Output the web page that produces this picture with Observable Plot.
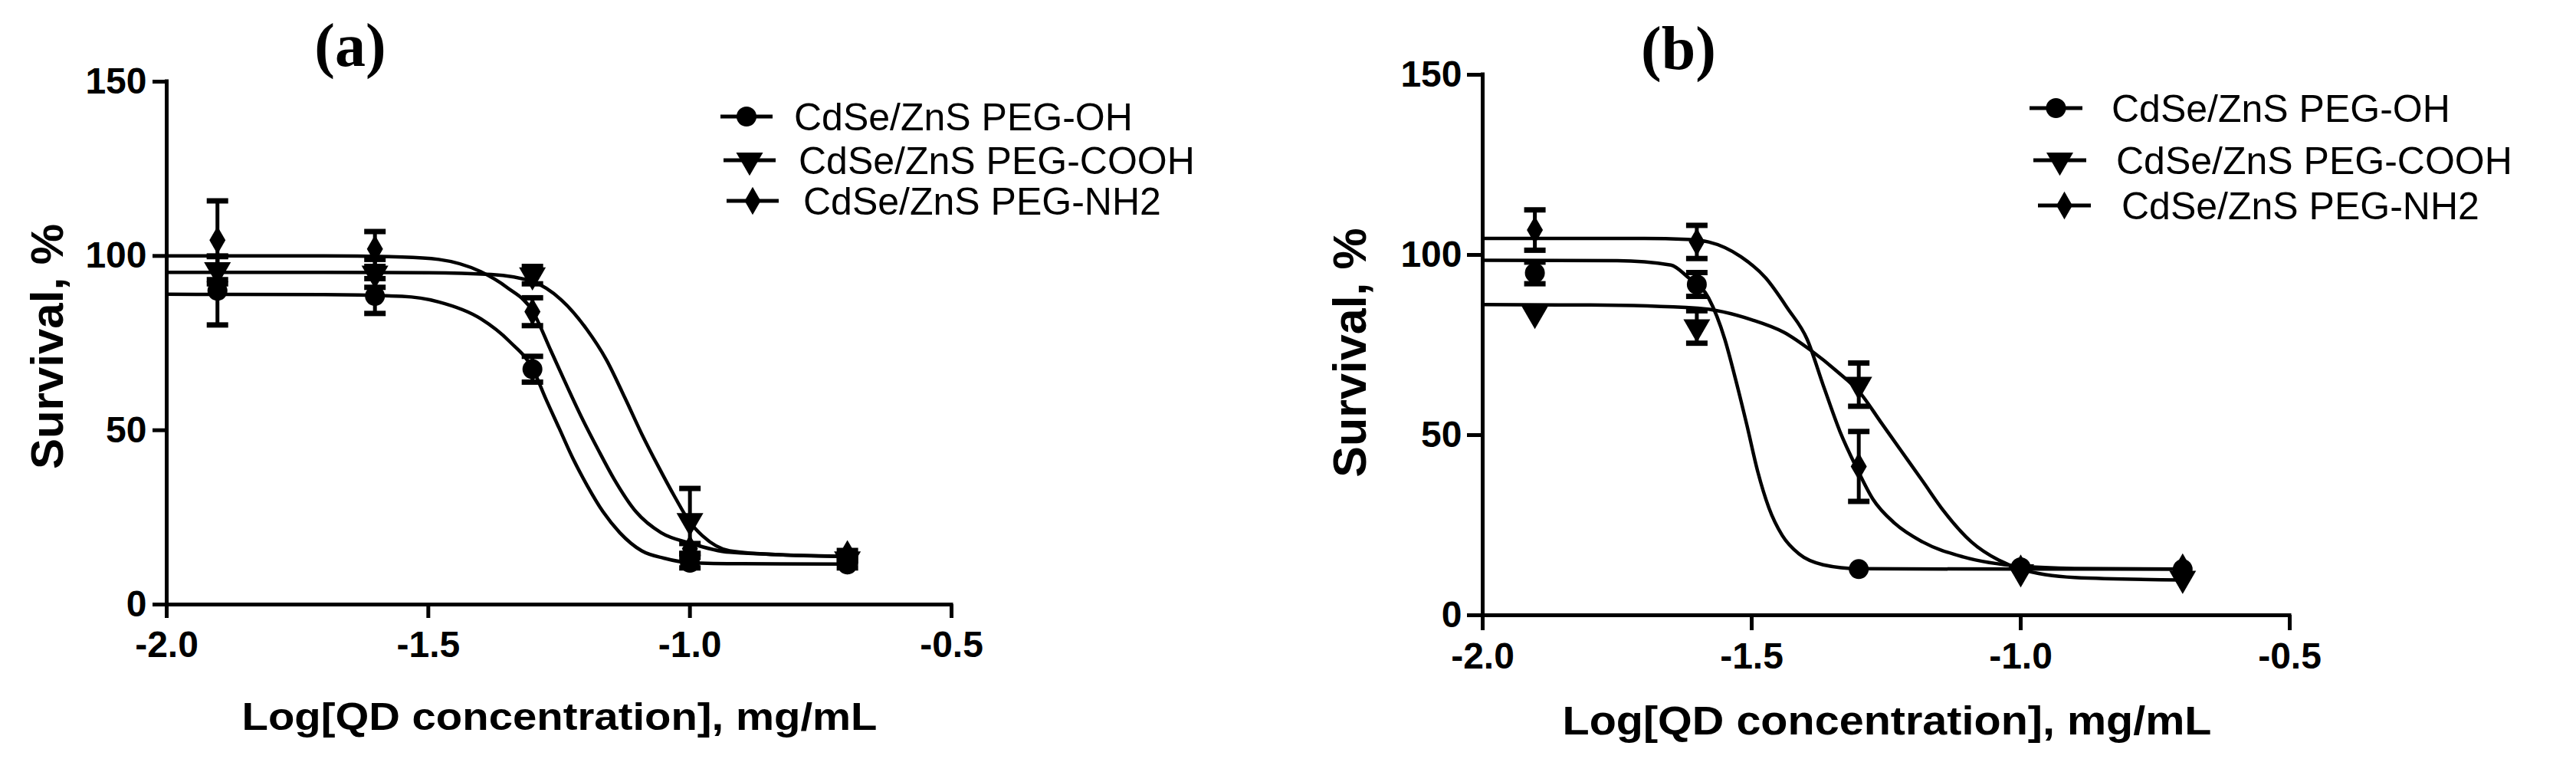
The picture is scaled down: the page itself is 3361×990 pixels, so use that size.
<!DOCTYPE html>
<html><head><meta charset="utf-8">
<script src="https://cdn.jsdelivr.net/npm/d3@7"></script>
<script src="https://cdn.jsdelivr.net/npm/@observablehq/plot@0.6"></script>
<style>
html,body{margin:0;padding:0;background:#fff;}
#fig{position:relative;width:3361px;height:990px;overflow:hidden;background:#fff;}
#fig svg{position:absolute;top:0;}
g[aria-label$="tick"] path{stroke-width:5px;}
</style></head><body><div id="fig"></div>
<script>
// ---------- data ----------
const seriesNames = ["CdSe/ZnS PEG-OH", "CdSe/ZnS PEG-COOH", "CdSe/ZnS PEG-NH2"];
const logConc = [-1.903, -1.602, -1.301, -1.0, -0.699];
const xTicks = [-2.0, -1.5, -1.0, -0.5];
const yTicks = [0, 50, 100, 150];

// panel (a) measured points (mean, error)
const a_OH = [90, 88.5, 67.5, 12, 11.5];
const a_OH_err = [9.8, 5, 3.7, 1.5, 1];
const a_COOH = [96, 95, 94.5, 24, 13];
const a_COOH_err = [4, 4, 2.5, 9.3, 1];
const a_NH2 = [104.5, 102, 84, 16, 14.5];
const a_NH2_err = [11.3, 5, 4, 1.5, 1];
// panel (a) fitted curves
const a_fit_OH_x = [-2.0, -1.7, -1.55, -1.48, -1.4, -1.345, -1.3, -1.276, -1.25, -1.224, -1.197, -1.166, -1.134, -1.092, -1.05, -1.0, -0.9, -0.7];
const a_fit_OH_y = [89, 88.9, 88.4, 86.8, 82, 75.5, 67.5, 59.2, 50.6, 42, 34.3, 26.6, 20.6, 15.4, 13.3, 12, 11.7, 11.6];
const a_fit_COOH_x = [-2.0, -1.7, -1.5, -1.38, -1.3, -1.246, -1.197, -1.16, -1.124, -1.092, -1.06, -1.029, -1.0, -0.976, -0.924, -0.818, -0.7];
const a_fit_COOH_y = [95.3, 95.3, 95.2, 94.7, 92.6, 87.4, 78.9, 70.3, 59.2, 48.9, 39.5, 30.9, 23.6, 19.7, 15.4, 14.2, 13.8];
const a_fit_NH2_x = [-2.0, -1.7, -1.55, -1.48, -1.4, -1.35, -1.3, -1.266, -1.24, -1.208, -1.176, -1.145, -1.103, -1.055, -1.0, -0.924, -0.7];
const a_fit_NH2_y = [100, 100, 99.7, 99, 95.5, 91, 84, 72.9, 64.3, 54, 44.6, 36, 26.6, 20.6, 17.6, 15, 13.8];

// panel (b) measured points (mean, error)
const b_OH = [95, 91.8, 12.8, 13.3, 12.8];
const b_OH_err = [3, 3.3, 0, 0, 0];
const b_COOH = [83.7, 80, 64, 12, 10.2];
const b_COOH_err = [0, 4.5, 6, 0, 0];
const b_NH2 = [106.9, 103.6, 41.3, 13, 13.3];
const b_NH2_err = [5.6, 4.6, 9.7, 0, 0];
// panel (b) fitted curves
const b_fit_OH_x = [-2.0, -1.75, -1.65, -1.62, -1.58, -1.55, -1.53, -1.509, -1.489, -1.468, -1.443, -1.412, -1.367, -1.3, -1.0, -0.7];
const b_fit_OH_y = [98.5, 98.4, 97.2, 94, 88, 76.6, 65.5, 52.8, 40, 29.8, 22.1, 17, 14, 12.9, 12.8, 12.8];
const b_fit_COOH_x = [-2.0, -1.8, -1.6, -1.5, -1.44, -1.39, -1.34, -1.3, -1.26, -1.224, -1.183, -1.143, -1.092, -1.041, -1.0, -0.9, -0.7];
const b_fit_COOH_y = [86.2, 86.1, 85.2, 82, 78.5, 73.5, 67.5, 62, 53.6, 46, 37.4, 28.9, 20.4, 15.3, 12.8, 10.5, 9.8];
const b_fit_NH2_x = [-2.0, -1.7, -1.62, -1.58, -1.52, -1.474, -1.433, -1.397, -1.367, -1.336, -1.305, -1.275, -1.234, -1.183, -1.107, -1.0, -0.9, -0.7];
const b_fit_NH2_y = [104.6, 104.6, 104.3, 103.6, 99.5, 93.6, 85.1, 76.6, 63.8, 51, 40.9, 32.3, 25.5, 20.4, 16.2, 13.6, 13, 12.8];

// ---------- helpers ----------
const FONT = "'Liberation Sans', Arial, Helvetica, sans-serif";
const pts = (ys, errs, key) => logConc.map((x, i) => ({x, y: ys[i], lo: ys[i] - errs[i], hi: ys[i] + errs[i], err: errs[i], key}));
const fit = (xs, ys, key) => xs.map((x, i) => ({x, y: ys[i], key}));
const capSymbol = {draw(ctx) { ctx.rect(-14, -3.5, 28, 7); }};
const markerDefs = [
  {type: d3.symbolCircle, r: 13, rotate: 0, plot: "circle"},
  {type: d3.symbolTriangle, r: 13, rotate: 180, plot: "triangle"},
  {type: d3.symbolDiamond, r: 11, rotate: 0, plot: "diamond"}
];

function panel(cfg) {
  const points = [pts(cfg.OH, cfg.OHe, 0), pts(cfg.COOH, cfg.COOHe, 1), pts(cfg.NH2, cfg.NH2e, 2)];
  const curves = [].concat(fit(cfg.fOHx, cfg.fOHy, 0), fit(cfg.fCOOHx, cfg.fCOOHy, 1), fit(cfg.fNH2x, cfg.fNH2y, 2));
  const errs = points.flat().filter(d => d.err > 0);
  const marks = [
    Plot.line(curves, {x: "x", y: "y", z: "key", curve: "monotone-x", stroke: "black", strokeWidth: 4.5}),
    Plot.ruleX(errs, {x: "x", y1: "lo", y2: "hi", stroke: "black", strokeWidth: 5}),
    Plot.dot(errs, {x: "x", y: "hi", symbol: capSymbol, fill: "black", stroke: "none"}),
    Plot.dot(errs, {x: "x", y: "lo", symbol: capSymbol, fill: "black", stroke: "none"}),
    ...points.map((p, k) => Plot.dot(p, {x: "x", y: "y", symbol: markerDefs[k].plot, r: markerDefs[k].r, rotate: markerDefs[k].rotate, fill: "black", stroke: "none"})),
    Plot.ruleX([-2], {stroke: "black", strokeWidth: 5, strokeLinecap: "square"}),
    Plot.ruleY([0], {stroke: "black", strokeWidth: 5, strokeLinecap: "square"}),
    Plot.axisX({ticks: xTicks, tickSize: cfg.xTick, tickPadding: cfg.xPad, tickFormat: d => d.toFixed(1), fontSize: 48, fontWeight: "bold", stroke: "black", strokeWidth: 5, label: null}),
    Plot.axisY({ticks: yTicks, tickSize: cfg.yTick, tickPadding: cfg.yPad, tickFormat: d => String(d), fontSize: 48, fontWeight: "bold", stroke: "black", strokeWidth: 5, label: null})
  ];
  const svg = Plot.plot({
    width: cfg.width, height: 990,
    marginLeft: cfg.mL, marginRight: cfg.mR, marginTop: cfg.mT, marginBottom: cfg.mB,
    x: {domain: [-2, -0.5]},
    y: {domain: [0, 150]},
    style: {fontFamily: FONT, color: "black", background: "transparent", overflow: "visible"},
    marks
  });
  svg.style.left = cfg.left + "px";
  const s = d3.select(svg);
  // panel letter
  s.append("text").attr("x", cfg.title[0]).attr("y", cfg.title[1]).attr("text-anchor", "middle")
    .attr("font-family", "'Liberation Serif', 'Times New Roman', serif").attr("font-weight", "bold")
    .attr("font-size", 80).attr("fill", "black").text(cfg.titleText);
  // y title
  s.append("text").attr("transform", `translate(${cfg.yT[0]},${cfg.yT[1]}) rotate(-90)`).attr("text-anchor", "middle")
    .attr("font-family", FONT).attr("font-weight", "bold").attr("font-size", cfg.yT[2]).attr("fill", "black").text("Survival, %");
  // x title
  s.append("text").attr("x", cfg.xT[0]).attr("y", cfg.xT[1]).attr("text-anchor", "middle")
    .attr("font-family", FONT).attr("font-weight", "bold").attr("font-size", cfg.xT[2])
    .attr("textLength", cfg.xT[3]).attr("lengthAdjust", "spacingAndGlyphs")
    .attr("fill", "black").text("Log[QD concentration], mg/mL");
  // legend
  const lg = s.append("g");
  cfg.legend.forEach((row, k) => {
    const cx = (row.l1 + row.l2) / 2;
    lg.append("line").attr("x1", row.l1).attr("x2", row.l2).attr("y1", row.y).attr("y2", row.y)
      .attr("stroke", "black").attr("stroke-width", 5);
    const m = markerDefs[k];
    lg.append("path").attr("d", d3.symbol().type(m.type).size(Math.PI * m.r * m.r)())
      .attr("transform", `translate(${cx},${row.y}) rotate(${m.rotate})`).attr("fill", "black");
    lg.append("text").attr("x", row.t).attr("y", row.y + 18).attr("text-anchor", "start")
      .attr("font-family", FONT).attr("font-size", 50).attr("fill", "black").text(seriesNames[k]);
  });
  return svg;
}

const fig = document.getElementById("fig");
fig.appendChild(panel({
  left: 0, width: 1680, mL: 217, mR: 439, mT: 106, mB: 202,
  xTick: 18, xPad: 16, yTick: 18, yPad: 8,
  OH: a_OH, OHe: a_OH_err, COOH: a_COOH, COOHe: a_COOH_err, NH2: a_NH2, NH2e: a_NH2_err,
  fOHx: a_fit_OH_x, fOHy: a_fit_OH_y, fCOOHx: a_fit_COOH_x, fCOOHy: a_fit_COOH_y, fNH2x: a_fit_NH2_x, fNH2y: a_fit_NH2_y,
  titleText: "(a)", title: [457, 86], yT: [82, 452, 60], xT: [730, 952, 50, 829],
  legend: [{y: 152, l1: 940, l2: 1008, t: 1036}, {y: 209, l1: 944, l2: 1012, t: 1042}, {y: 262, l1: 948, l2: 1016, t: 1048}]
}));
fig.appendChild(panel({
  left: 1680, width: 1681, mL: 254, mR: 374, mT: 97, mB: 188,
  xTick: 20, xPad: 15, yTick: 20, yPad: 7,
  OH: b_OH, OHe: b_OH_err, COOH: b_COOH, COOHe: b_COOH_err, NH2: b_NH2, NH2e: b_NH2_err,
  fOHx: b_fit_OH_x, fOHy: b_fit_OH_y, fCOOHx: b_fit_COOH_x, fCOOHy: b_fit_COOH_y, fNH2x: b_fit_NH2_x, fNH2y: b_fit_NH2_y,
  titleText: "(b)", title: [510, 90], yT: [102, 460, 61], xT: [782, 958, 51, 847],
  legend: [{y: 141, l1: 968, l2: 1037, t: 1075}, {y: 209, l1: 973, l2: 1042, t: 1081}, {y: 268, l1: 979, l2: 1048, t: 1088}]
}));
</script></body></html>
